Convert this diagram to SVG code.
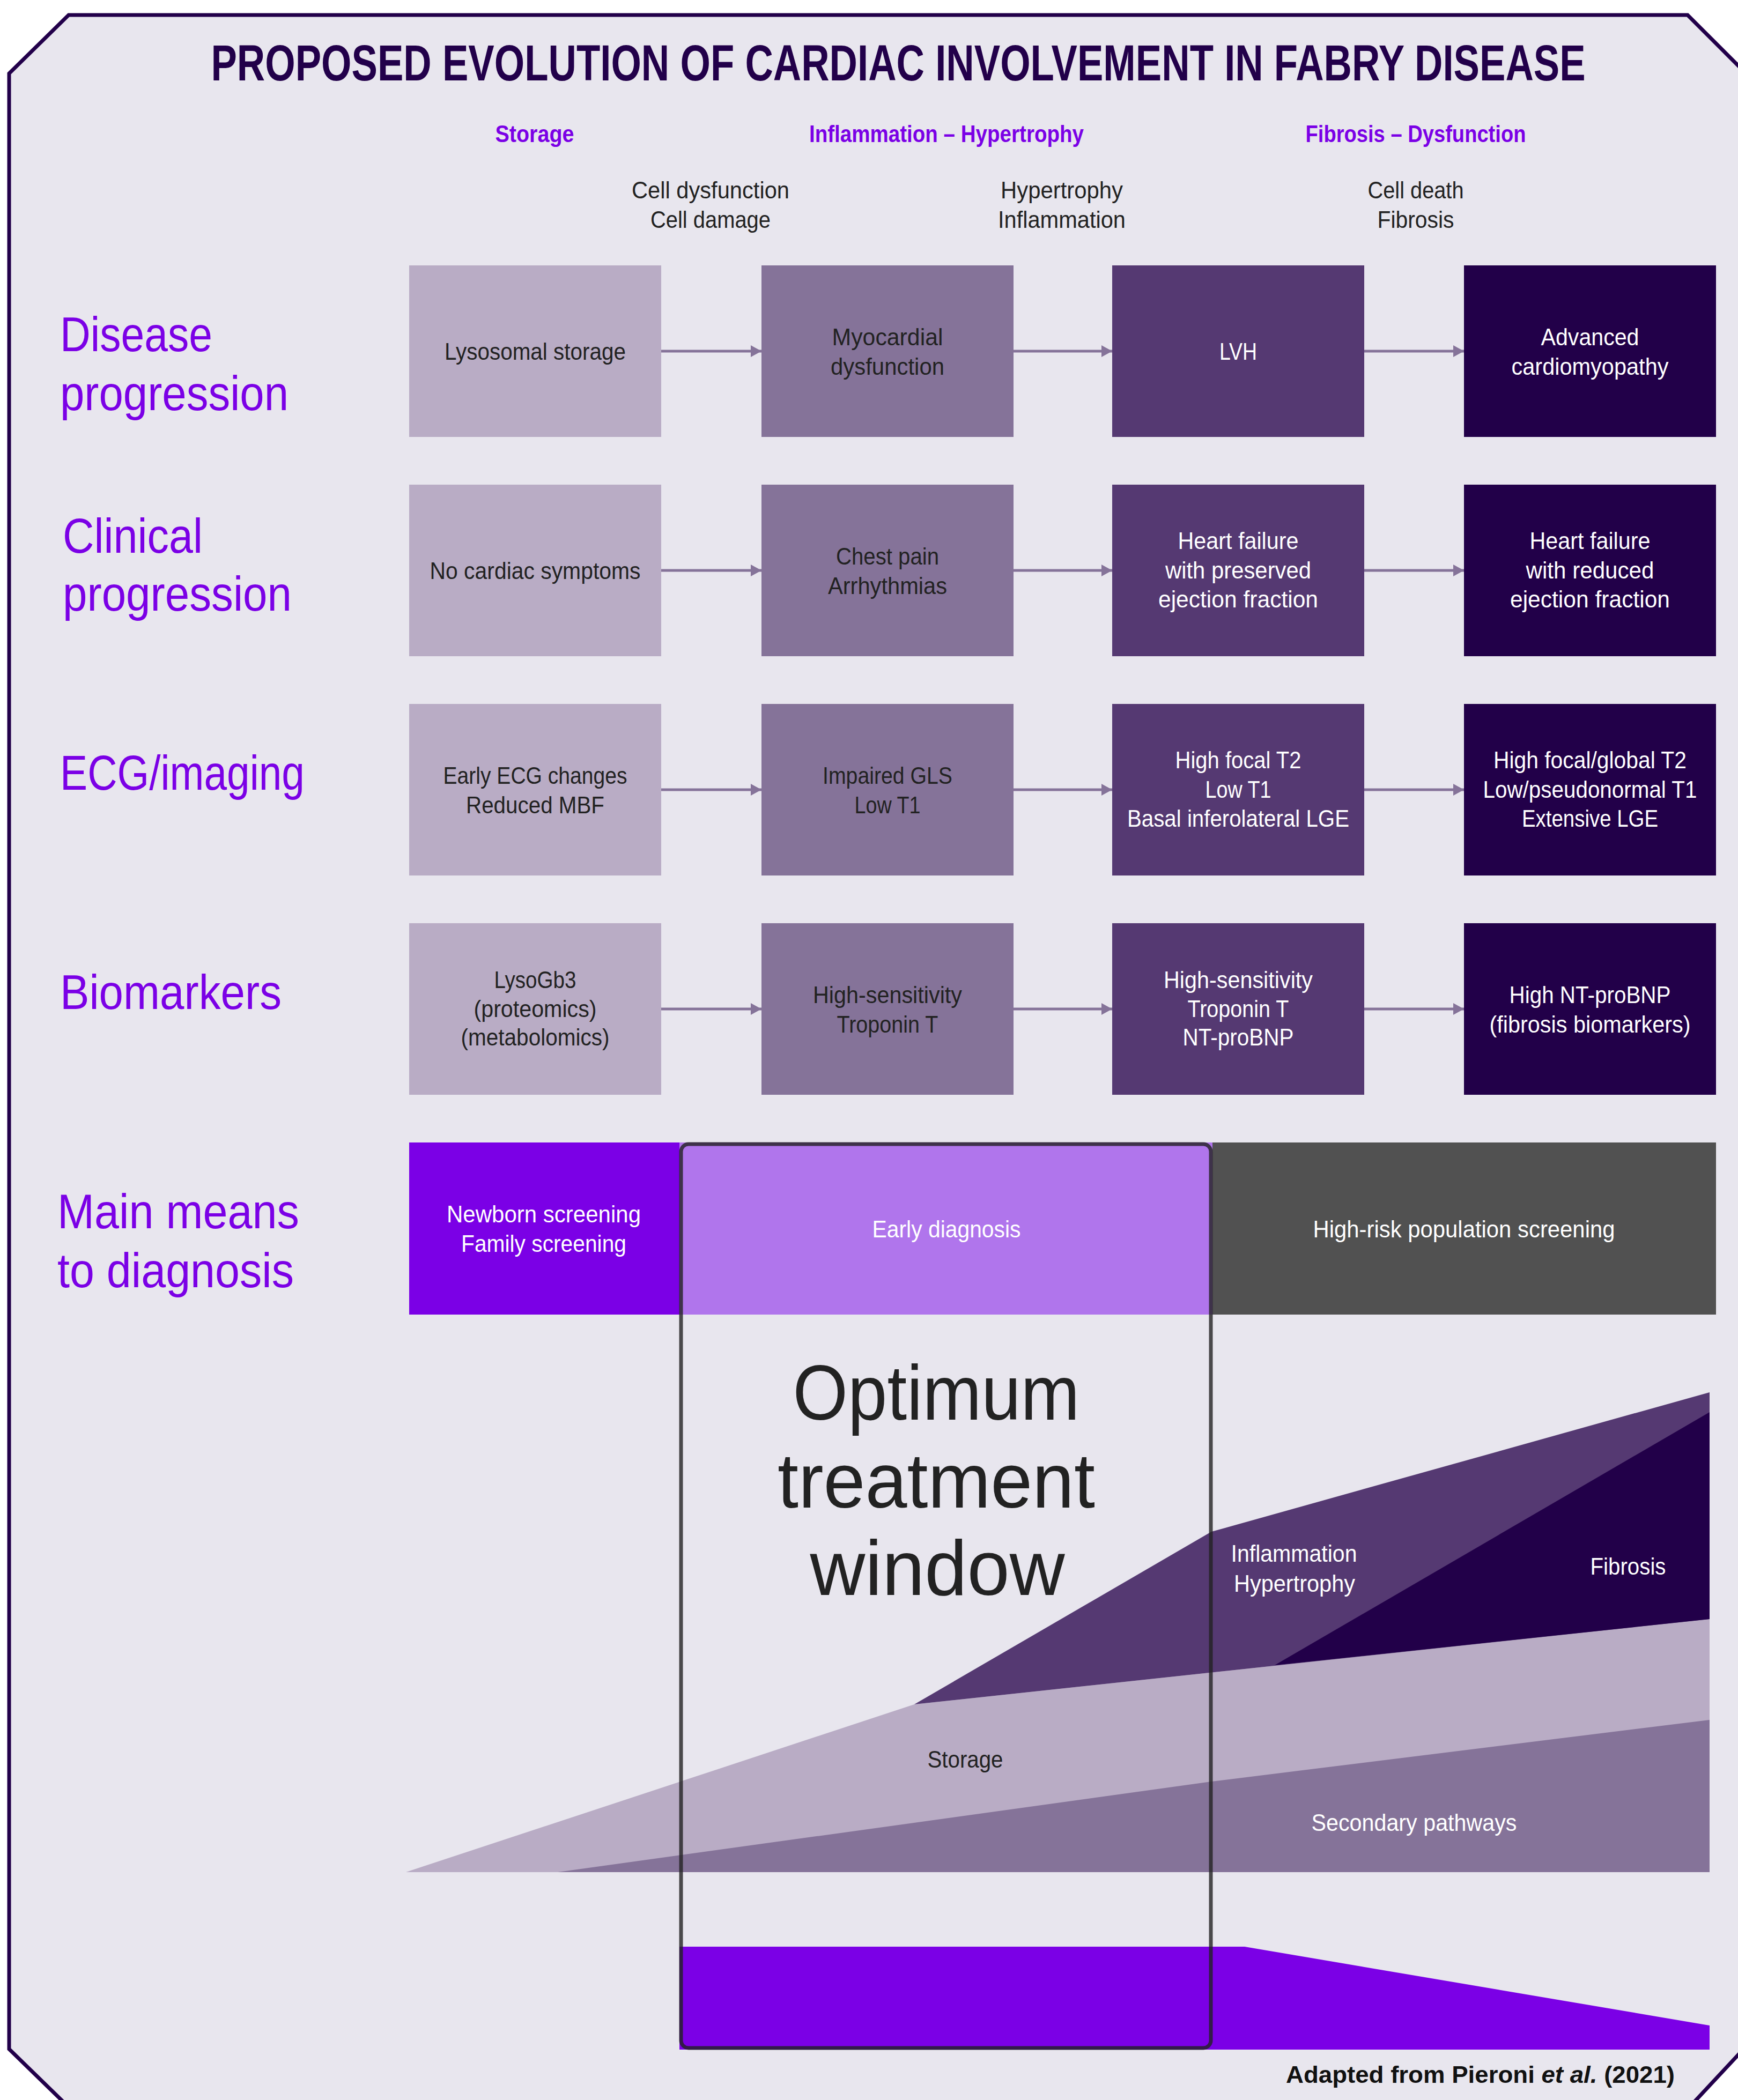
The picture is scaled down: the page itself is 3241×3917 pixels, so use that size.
<svg xmlns="http://www.w3.org/2000/svg" width="3241" height="3917" viewBox="0 0 3241 3917">
<style>
text{font-family:"Liberation Sans",Arial,sans-serif}
.bt{font-size:44px;text-anchor:middle}
.dk{fill:#222222}
.wt{fill:#ffffff}
.rl{font-size:90px;fill:#7b00e6}
.hd{font-size:44px;font-weight:bold;fill:#7b00e6;text-anchor:middle}
.sb{font-size:44px;fill:#222222;text-anchor:middle}
.c1{fill:#b9acc5}
.c2{fill:#857399}
.c3{fill:#553972}
.c4{fill:#220049}
.ar{stroke:#857399;stroke-width:5;fill:none}
.ot{font-size:145px;fill:#222222;text-anchor:middle}
</style>
<defs>
<marker id="ah" markerUnits="userSpaceOnUse" markerWidth="20" markerHeight="22" refX="20" refY="11" orient="auto">
<path d="M0,0 L20,11 L0,22 z" fill="#857399"/>
</marker>
</defs>
<rect x="0" y="0" width="3241" height="3917" fill="#ffffff"/>
<polygon id="frame" points="17,137 128,28 3147,28 3256,137 3256,3817 3146,3935 133,3935 17,3822" fill="#e8e6ee" stroke="#22004a" stroke-width="7"/>

<text transform="translate(1675,150) scale(0.8,1)" x="0" y="0" font-size="94" font-weight="bold" fill="#22004a" text-anchor="middle" textLength="3204" lengthAdjust="spacingAndGlyphs">PROPOSED EVOLUTION OF CARDIAC INVOLVEMENT IN FABRY DISEASE</text>

<g id="headers">
<text class="hd" x="997" y="265" textLength="147" lengthAdjust="spacingAndGlyphs">Storage</text>
<text class="hd" x="1765" y="265" textLength="512" lengthAdjust="spacingAndGlyphs">Inflammation – Hypertrophy</text>
<text class="hd" x="2640" y="265" textLength="411" lengthAdjust="spacingAndGlyphs">Fibrosis – Dysfunction</text>
<text class="sb" x="1325" y="370" textLength="294" lengthAdjust="spacingAndGlyphs">Cell dysfunction</text>
<text class="sb" x="1325" y="425" textLength="224" lengthAdjust="spacingAndGlyphs">Cell damage</text>
<text class="sb" x="1980" y="370" textLength="228" lengthAdjust="spacingAndGlyphs">Hypertrophy</text>
<text class="sb" x="1980" y="425" textLength="238" lengthAdjust="spacingAndGlyphs">Inflammation</text>
<text class="sb" x="2640" y="370" textLength="179" lengthAdjust="spacingAndGlyphs">Cell death</text>
<text class="sb" x="2640" y="425" textLength="143" lengthAdjust="spacingAndGlyphs">Fibrosis</text>
</g>

<g id="row-labels">
<text class="rl" x="112" y="655" textLength="284" lengthAdjust="spacingAndGlyphs">Disease</text>
<text class="rl" x="112" y="765" textLength="426" lengthAdjust="spacingAndGlyphs">progression</text>
<text class="rl" x="117" y="1031" textLength="261" lengthAdjust="spacingAndGlyphs">Clinical</text>
<text class="rl" x="117" y="1139" textLength="427" lengthAdjust="spacingAndGlyphs">progression</text>
<text class="rl" x="112" y="1473" textLength="456" lengthAdjust="spacingAndGlyphs">ECG/imaging</text>
<text class="rl" x="112" y="1882" textLength="413" lengthAdjust="spacingAndGlyphs">Biomarkers</text>
<text class="rl" x="107" y="2291" textLength="451" lengthAdjust="spacingAndGlyphs">Main means</text>
<text class="rl" x="107" y="2401" textLength="441" lengthAdjust="spacingAndGlyphs">to diagnosis</text>
</g>

<g id="connectors">
<line class="ar" x1="1233" y1="655" x2="1420" y2="655" marker-end="url(#ah)"/>
<line class="ar" x1="1890" y1="655" x2="2074" y2="655" marker-end="url(#ah)"/>
<line class="ar" x1="2544" y1="655" x2="2730" y2="655" marker-end="url(#ah)"/>
<line class="ar" x1="1233" y1="1064" x2="1420" y2="1064" marker-end="url(#ah)"/>
<line class="ar" x1="1890" y1="1064" x2="2074" y2="1064" marker-end="url(#ah)"/>
<line class="ar" x1="2544" y1="1064" x2="2730" y2="1064" marker-end="url(#ah)"/>
<line class="ar" x1="1233" y1="1473" x2="1420" y2="1473" marker-end="url(#ah)"/>
<line class="ar" x1="1890" y1="1473" x2="2074" y2="1473" marker-end="url(#ah)"/>
<line class="ar" x1="2544" y1="1473" x2="2730" y2="1473" marker-end="url(#ah)"/>
<line class="ar" x1="1233" y1="1882" x2="1420" y2="1882" marker-end="url(#ah)"/>
<line class="ar" x1="1890" y1="1882" x2="2074" y2="1882" marker-end="url(#ah)"/>
<line class="ar" x1="2544" y1="1882" x2="2730" y2="1882" marker-end="url(#ah)"/>
</g>

<g id="n-lysosomal-storage"><rect class="c1" x="763" y="495" width="470" height="320"/>
<text class="bt dk" x="998" y="671" textLength="338" lengthAdjust="spacingAndGlyphs">Lysosomal storage</text></g>
<g id="n-myocardial-dysfunction"><rect class="c2" x="1420" y="495" width="470" height="320"/>
<text class="bt dk" x="1655" y="644" textLength="207" lengthAdjust="spacingAndGlyphs">Myocardial</text>
<text class="bt dk" x="1655" y="699" textLength="212" lengthAdjust="spacingAndGlyphs">dysfunction</text></g>
<g id="n-lvh"><rect class="c3" x="2074" y="495" width="470" height="320"/>
<text class="bt wt" x="2309" y="671" textLength="70" lengthAdjust="spacingAndGlyphs">LVH</text></g>
<g id="n-advanced-cardiomyopathy"><rect class="c4" x="2730" y="495" width="470" height="320"/>
<text class="bt wt" x="2965" y="644" textLength="183" lengthAdjust="spacingAndGlyphs">Advanced</text>
<text class="bt wt" x="2965" y="699" textLength="293" lengthAdjust="spacingAndGlyphs">cardiomyopathy</text></g>

<g id="n-no-symptoms"><rect class="c1" x="763" y="904" width="470" height="320"/>
<text class="bt dk" x="998" y="1080" textLength="393" lengthAdjust="spacingAndGlyphs">No cardiac symptoms</text></g>
<g id="n-chest-pain"><rect class="c2" x="1420" y="904" width="470" height="320"/>
<text class="bt dk" x="1655" y="1053" textLength="192" lengthAdjust="spacingAndGlyphs">Chest pain</text>
<text class="bt dk" x="1655" y="1108" textLength="222" lengthAdjust="spacingAndGlyphs">Arrhythmias</text></g>
<g id="n-hfpef"><rect class="c3" x="2074" y="904" width="470" height="320"/>
<text class="bt wt" x="2309" y="1024" textLength="225" lengthAdjust="spacingAndGlyphs">Heart failure</text>
<text class="bt wt" x="2309" y="1079" textLength="272" lengthAdjust="spacingAndGlyphs">with preserved</text>
<text class="bt wt" x="2309" y="1133" textLength="298" lengthAdjust="spacingAndGlyphs">ejection fraction</text></g>
<g id="n-hfref"><rect class="c4" x="2730" y="904" width="470" height="320"/>
<text class="bt wt" x="2965" y="1024" textLength="225" lengthAdjust="spacingAndGlyphs">Heart failure</text>
<text class="bt wt" x="2965" y="1079" textLength="239" lengthAdjust="spacingAndGlyphs">with reduced</text>
<text class="bt wt" x="2965" y="1133" textLength="298" lengthAdjust="spacingAndGlyphs">ejection fraction</text></g>

<g id="n-early-ecg"><rect class="c1" x="763" y="1313" width="470" height="320"/>
<text class="bt dk" x="998" y="1462" textLength="343" lengthAdjust="spacingAndGlyphs">Early ECG changes</text>
<text class="bt dk" x="998" y="1517" textLength="258" lengthAdjust="spacingAndGlyphs">Reduced MBF</text></g>
<g id="n-impaired-gls"><rect class="c2" x="1420" y="1313" width="470" height="320"/>
<text class="bt dk" x="1655" y="1462" textLength="242" lengthAdjust="spacingAndGlyphs">Impaired GLS</text>
<text class="bt dk" x="1655" y="1517" textLength="123" lengthAdjust="spacingAndGlyphs">Low T1</text></g>
<g id="n-high-focal-t2"><rect class="c3" x="2074" y="1313" width="470" height="320"/>
<text class="bt wt" x="2309" y="1433" textLength="235" lengthAdjust="spacingAndGlyphs">High focal T2</text>
<text class="bt wt" x="2309" y="1488" textLength="123" lengthAdjust="spacingAndGlyphs">Low T1</text>
<text class="bt wt" x="2309" y="1542" textLength="414" lengthAdjust="spacingAndGlyphs">Basal inferolateral LGE</text></g>
<g id="n-high-global-t2"><rect class="c4" x="2730" y="1313" width="470" height="320"/>
<text class="bt wt" x="2965" y="1433" textLength="360" lengthAdjust="spacingAndGlyphs">High focal/global T2</text>
<text class="bt wt" x="2965" y="1488" textLength="399" lengthAdjust="spacingAndGlyphs">Low/pseudonormal T1</text>
<text class="bt wt" x="2965" y="1542" textLength="254" lengthAdjust="spacingAndGlyphs">Extensive LGE</text></g>

<g id="n-lysogb3"><rect class="c1" x="763" y="1722" width="470" height="320"/>
<text class="bt dk" x="998" y="1843" textLength="153" lengthAdjust="spacingAndGlyphs">LysoGb3</text>
<text class="bt dk" x="998" y="1897" textLength="229" lengthAdjust="spacingAndGlyphs">(proteomics)</text>
<text class="bt dk" x="998" y="1950" textLength="277" lengthAdjust="spacingAndGlyphs">(metabolomics)</text></g>
<g id="n-hs-troponin"><rect class="c2" x="1420" y="1722" width="470" height="320"/>
<text class="bt dk" x="1655" y="1871" textLength="278" lengthAdjust="spacingAndGlyphs">High-sensitivity</text>
<text class="bt dk" x="1655" y="1926" textLength="189" lengthAdjust="spacingAndGlyphs">Troponin T</text></g>
<g id="n-hs-troponin-bnp"><rect class="c3" x="2074" y="1722" width="470" height="320"/>
<text class="bt wt" x="2309" y="1843" textLength="278" lengthAdjust="spacingAndGlyphs">High-sensitivity</text>
<text class="bt wt" x="2309" y="1897" textLength="189" lengthAdjust="spacingAndGlyphs">Troponin T</text>
<text class="bt wt" x="2309" y="1950" textLength="207" lengthAdjust="spacingAndGlyphs">NT-proBNP</text></g>
<g id="n-high-bnp"><rect class="c4" x="2730" y="1722" width="470" height="320"/>
<text class="bt wt" x="2965" y="1871" textLength="301" lengthAdjust="spacingAndGlyphs">High NT-proBNP</text>
<text class="bt wt" x="2965" y="1926" textLength="375" lengthAdjust="spacingAndGlyphs">(fibrosis biomarkers)</text></g>

<g id="n-newborn"><rect x="763" y="2131" width="505" height="321" fill="#7b00e6"/>
<text class="bt wt" x="1014" y="2280" textLength="362" lengthAdjust="spacingAndGlyphs">Newborn screening</text>
<text class="bt wt" x="1014" y="2335" textLength="308" lengthAdjust="spacingAndGlyphs">Family screening</text></g>
<g id="n-early-diagnosis"><rect x="1267" y="2131" width="994" height="321" fill="#b075ec"/>
<text class="bt wt" x="1765" y="2308" textLength="277" lengthAdjust="spacingAndGlyphs">Early diagnosis</text></g>
<g id="n-high-risk"><rect x="2261" y="2131" width="939" height="321" fill="#515151"/>
<text class="bt wt" x="2730" y="2308" textLength="563" lengthAdjust="spacingAndGlyphs">High-risk population screening</text></g>

<g id="curves">
<polygon points="757,3492 1705,3179 3188,3020 3188,3492" fill="#b9acc5"/>
<polygon points="1705,3179 2259,2857 3188,2597 3188,3020" fill="#553972"/>
<polygon points="2377,3106 3188,2634 3188,3020" fill="#220049"/>
<polygon points="1040,3492 2259,3323 3188,3208 3188,3492" fill="#857399"/>
<text class="bt dk" x="1800" y="3297" textLength="141" lengthAdjust="spacingAndGlyphs">Storage</text>
<text class="bt wt" x="2413" y="2913" textLength="235" lengthAdjust="spacingAndGlyphs">Inflammation</text>
<text class="bt wt" x="2414" y="2969" textLength="226" lengthAdjust="spacingAndGlyphs">Hypertrophy</text>
<text class="bt wt" x="3036" y="2937" textLength="141" lengthAdjust="spacingAndGlyphs">Fibrosis</text>
<text class="bt wt" x="2637" y="3415" textLength="383" lengthAdjust="spacingAndGlyphs">Secondary pathways</text>
</g>

<polygon id="treatment-bar" points="1267,3631 2321,3631 3188,3778 3188,3823 1267,3823" fill="#7b00e6"/>

<g id="treatment-window">
<rect x="1270" y="2134" width="988" height="1686" rx="14" ry="14" fill="none" stroke="#222222" stroke-opacity="0.8" stroke-width="7"/>
<text class="ot" x="1746" y="2648" textLength="535" lengthAdjust="spacingAndGlyphs">Optimum</text>
<text class="ot" x="1746" y="2812" textLength="592" lengthAdjust="spacingAndGlyphs">treatment</text>
<text class="ot" x="1748" y="2975" textLength="475" lengthAdjust="spacingAndGlyphs">window</text>
</g>

<text x="2398" y="3885" font-size="44" font-weight="bold" fill="#111111" textLength="725" lengthAdjust="spacingAndGlyphs">Adapted from Pieroni <tspan font-style="italic">et al.</tspan> (2021)</text>
</svg>
